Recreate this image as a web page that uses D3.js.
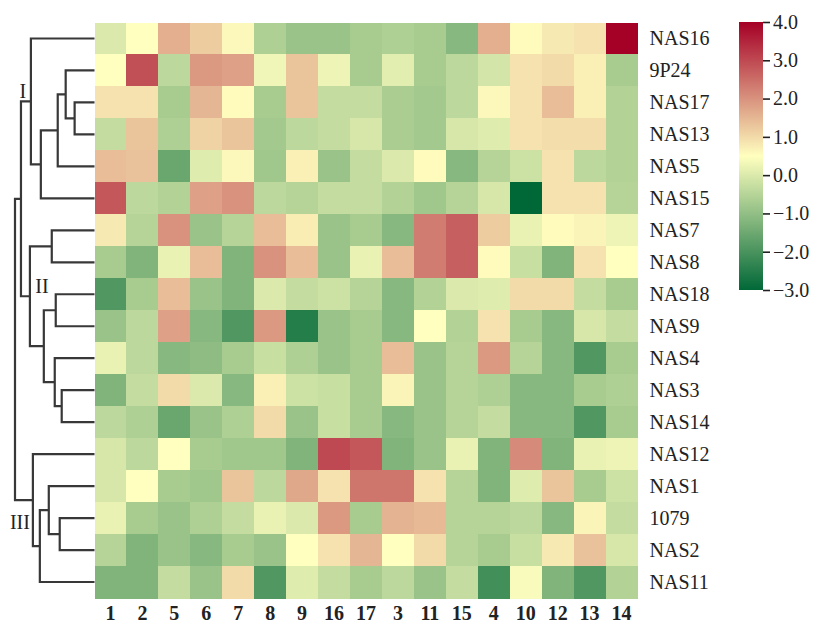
<!DOCTYPE html>
<html lang="en">
<head>
  <meta charset="UTF-8">
  <title>Clustered heatmap</title>
  <script src="https://d3js.org/d3.v7.min.js"></script>
  <style>
    body { margin: 0; background: #fff; }
    text { font-family: "Liberation Serif", "Times New Roman", serif; fill: #222; }
  </style>
</head>
<body>
<div id="chart"></div>
<script>
// rows top to bottom, columns left to right (order after clustering)
const rowLabels = ["NAS16", "9P24", "NAS17", "NAS13", "NAS5", "NAS15", "NAS7", "NAS8", "NAS18",
  "NAS9", "NAS4", "NAS3", "NAS14", "NAS12", "NAS1", "1079", "NAS2", "NAS11"];
const colLabels = ["1", "2", "5", "6", "7", "8", "9", "16", "17", "3", "11", "15", "4", "10", "12", "13", "14"];

const values = [
  [0.0, 0.5, 1.6, 1.2, 0.6, -0.6, -0.9, -0.9, -0.7, -0.6, -0.7, -1.15, 1.6, 0.55, 0.8, 0.9, 4.0],
  [0.5, 2.9, -0.4, 1.9, 1.8, 0.3, 1.3, 0.25, -0.7, 0.1, -0.7, -0.4, -0.1, 0.9, 1.0, 0.7, -0.7],
  [0.9, 0.9, -0.7, 1.5, 0.55, -0.7, 1.3, -0.3, -0.3, -0.65, -0.75, -0.4, 0.6, 0.9, 1.4, 0.7, -0.55],
  [-0.3, 1.3, -0.6, 1.1, 1.3, -0.75, -0.4, -0.3, -0.05, -0.65, -0.75, -0.05, 0.05, 0.9, 0.95, 0.95, -0.55],
  [1.4, 1.35, -1.55, 0.05, 0.6, -0.8, 0.7, -0.9, -0.3, 0.0, 0.55, -1.15, -0.5, -0.2, 0.9, -0.4, -0.55],
  [2.8, -0.4, -0.55, 1.8, 2.0, -0.4, -0.5, -0.3, -0.3, -0.55, -0.8, -0.5, -0.05, -3.0, 0.9, 0.9, -0.5],
  [0.8, -0.5, 2.0, -0.9, -0.5, 1.4, 0.75, -0.9, -0.7, -1.15, 2.3, 2.7, 1.2, 0.2, 0.55, 0.65, 0.25],
  [-0.7, -1.25, 0.2, 1.4, -1.25, 2.0, 1.4, -0.9, 0.2, 1.4, 2.3, 2.7, 0.55, -0.25, -1.25, 0.9, 0.5],
  [-1.9, -0.7, 1.4, -0.9, -1.25, 0.0, -0.3, -0.2, -0.5, -1.15, -0.55, 0.0, 0.05, 1.0, 1.0, -0.3, -0.7],
  [-0.9, -0.4, 1.8, -1.15, -1.9, 1.9, -2.5, -0.9, -0.7, -1.15, 0.5, -0.55, 0.9, -0.7, -1.15, -0.05, -0.3],
  [0.2, -0.4, -1.15, -1.05, -0.7, -0.25, -0.6, -0.9, -0.7, 1.4, -0.9, -0.5, 1.9, -0.5, -1.15, -1.9, -0.7],
  [-1.25, -0.3, 1.0, 0.0, -1.15, 0.7, -0.2, -0.25, -0.7, 0.65, -0.9, -0.5, -0.6, -1.15, -1.15, -0.7, -0.6],
  [-0.4, -0.6, -1.55, -0.9, -0.6, 1.0, -0.9, -0.25, -0.7, -1.15, -0.9, -0.5, -0.3, -1.15, -1.15, -1.9, -0.7],
  [-0.05, -0.4, 0.5, -0.7, -0.8, -0.8, -1.25, 3.0, 2.8, -1.25, -0.9, 0.2, -1.25, 2.1, -1.25, 0.2, 0.25],
  [-0.05, 0.5, -0.7, -0.8, 1.3, -0.4, 1.7, 0.9, 2.4, 2.4, 0.9, -0.5, -1.25, 0.05, 1.3, -0.7, -0.2],
  [0.2, -0.7, -0.9, -0.6, -0.3, 0.2, 0.0, 1.9, -0.7, 1.55, 1.45, -0.5, -0.5, -0.4, -1.15, 0.65, -0.3],
  [-0.5, -1.25, -0.9, -1.15, -0.7, -0.9, 0.5, 0.9, 1.5, 0.5, 1.0, -0.5, -0.7, -0.25, 0.8, 1.35, -0.05],
  [-1.25, -1.25, -0.3, -0.9, 1.0, -1.9, 0.05, -0.3, -0.7, -0.4, -0.9, -0.3, -2.1, 0.4, -1.25, -1.9, -0.55]
];

// row dendrogram: merge heights, leaves by name
const rowTree = {h: 8.0, children: [
  {h: 7.4, children: [
    {h: 6.4, label: "I", children: ["NAS16",
      {h: 5.4, children: [
        {h: 3.7, children: [
          {h: 2.9, children: ["9P24", {h: 2.0, children: ["NAS17", "NAS13"]}]},
          "NAS5"]},
        "NAS15"]}]},
    {h: 6.5, label: "II", children: [
      {h: 4.3, children: ["NAS7", "NAS8"]},
      {h: 5.1, children: [
        {h: 3.9, children: ["NAS18", "NAS9"]},
        {h: 4.0, children: ["NAS4", {h: 3.3, children: ["NAS3", "NAS14"]}]}]}]}]},
  {h: 6.2, label: "III", children: ["NAS12",
    {h: 5.5, children: [
      {h: 4.6, children: ["NAS1", {h: 3.5, children: ["1079", "NAS2"]}]},
      "NAS11"]}]}
]};

const colorTicks = [-3, -2, -1, 0, 1, 2, 3, 4];

const width = 817, height = 626;
const hm = {left: 94.5, right: 637.5, top: 22.5, bottom: 598};
const cb = {x: 739, w: 24, top: 22, bottom: 290};

const svg = d3.select("#chart").append("svg")
  .attr("width", width)
  .attr("height", height);

const x = d3.scaleBand().domain(colLabels).range([hm.left, hm.right]);
const y = d3.scaleBand().domain(rowLabels).range([hm.top, hm.bottom]);
const color = d3.scaleLinear()
  .domain([-3, 0.5, 4])
  .range(["#006837", "#ffffbf", "#a50026"]);

// cells
const cells = [];
values.forEach((row, i) => row.forEach((v, j) => cells.push({r: rowLabels[i], c: colLabels[j], v})));

svg.append("g")
  .selectAll("rect")
  .data(cells)
  .join("rect")
  .attr("x", d => x(d.c))
  .attr("y", d => y(d.r))
  .attr("width", x.bandwidth() + 0.5)
  .attr("height", y.bandwidth() + 0.5)
  .attr("fill", d => color(d.v))
  .attr("shape-rendering", "crispEdges");

// row labels
svg.append("g")
  .selectAll("text")
  .data(rowLabels)
  .join("text")
  .attr("x", hm.right + 12)
  .attr("y", d => y(d) + y.bandwidth() / 2)
  .attr("dy", "0.35em")
  .style("font-size", "20px")
  .text(d => d);

// column labels
svg.append("g")
  .selectAll("text")
  .data(colLabels)
  .join("text")
  .attr("x", d => x(d) + x.bandwidth() / 2)
  .attr("y", hm.bottom + 22)
  .attr("text-anchor", "middle")
  .style("font-size", "20px")
  .style("font-weight", "bold")
  .text(d => d);

// dendrogram
const root = d3.hierarchy(rowTree, d => typeof d === "string" ? null : d.children);
const xTree = d3.scaleLinear().domain([0, 8.0]).range([hm.left, 15]);

root.eachAfter(n => {
  if (!n.children) {
    n.py = y(n.data) + y.bandwidth() / 2;
    n.px = xTree(0);
  } else {
    n.py = d3.mean(n.children, c => c.py);
    n.px = xTree(n.data.h);
  }
});

const dg = svg.append("g")
  .attr("fill", "none")
  .attr("stroke", "#383838")
  .attr("stroke-width", 2.2);

root.descendants().filter(n => n.children).forEach(n => {
  const [a, b] = n.children;
  dg.append("path")
    .attr("d", `M${a.px},${a.py}H${n.px}V${b.py}H${b.px}`);
});

// cluster labels
const labelOffset = {I: [-8, -3], II: [12, -3], III: [-13, 29]};
svg.append("g")
  .selectAll("text")
  .data(root.descendants().filter(n => n.data.label))
  .join("text")
  .attr("x", n => n.px + labelOffset[n.data.label][0])
  .attr("y", n => n.py + labelOffset[n.data.label][1])
  .attr("text-anchor", "middle")
  .style("font-size", "20px")
  .text(n => n.data.label);

// colour bar
const defs = svg.append("defs");
const grad = defs.append("linearGradient")
  .attr("id", "cbgrad")
  .attr("x1", 0).attr("y1", 1).attr("x2", 0).attr("y2", 0);
d3.range(0, 1.0001, 0.05).forEach(t => {
  grad.append("stop")
    .attr("offset", t)
    .attr("stop-color", color(-3 + 7 * t));
});

const yCb = d3.scaleLinear().domain([-3, 4]).range([cb.bottom, cb.top]);

svg.append("rect")
  .attr("x", cb.x)
  .attr("y", cb.top)
  .attr("width", cb.w)
  .attr("height", cb.bottom - cb.top)
  .attr("fill", "url(#cbgrad)");

const cbAxis = svg.append("g")
  .attr("transform", `translate(${cb.x + cb.w},0)`)
  .call(d3.axisRight(yCb).tickValues(colorTicks).tickFormat(d3.format(".1f")).tickSize(7).tickPadding(3));

cbAxis.select(".domain").remove();
cbAxis.selectAll(".tick line").attr("stroke", "#222").attr("stroke-width", 1.6);
cbAxis.selectAll(".tick text")
  .style("font-size", "20px")
  .style("font-family", "'Liberation Serif', 'Times New Roman', serif")
  .attr("fill", "#222");
</script>
</body>
</html>
